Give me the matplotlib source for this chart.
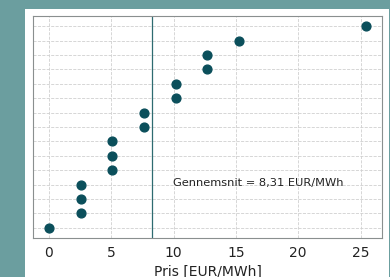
import numpy as np
import matplotlib
matplotlib.use('Agg')
import matplotlib.pyplot as plt
from matplotlib.patches import Rectangle

# prices per observation (EUR/MWh), sorted
pris = [0, 2.54, 2.54, 2.54, 5.08, 5.08, 5.08, 7.62, 7.62,
        10.16, 10.16, 12.7, 12.7, 15.24, 25.45]
rang = list(range(len(pris)))
snit = np.mean(pris)
snit_tekst = 'Gennemsnit = 8,31 EUR/MWh'
xticks = [0, 5, 10, 15, 20, 25]

bg = '#6b9e9f'
dot = '#0b4f5b'

fig = plt.figure(figsize=(3.9, 2.77), dpi=100, facecolor=bg)
fig.patches.append(Rectangle((25/390, 0), 364/390, 268/277, transform=fig.transFigure,
                             facecolor='white', edgecolor='none', zorder=-5))

ax = fig.add_axes([33/390, 1 - 238/277, 349/390, 222/277])
ax.set_zorder(2)
ax.scatter(pris, rang, s=40, color=dot, zorder=3)
ax.axvline(snit, color='#2e6b70', linewidth=0.9, zorder=2)
ax.text(snit + 1.65, 2.75, snit_tekst, fontsize=8.2, color='#222222', va='bottom')

ax.set_xticks(xticks)
ax.set_yticks(rang)
ax.set_yticklabels([])
ax.tick_params(axis='y', length=0)
ax.tick_params(axis='x', length=0, labelsize=10, pad=6, labelcolor='#222222')
ax.grid(True, linestyle='--', color='#d0d0d0', linewidth=0.6)
ax.set_axisbelow(True)
for s in ax.spines.values():
    s.set_color('#8a8f8f')
ax.set_xlabel('Pris [EUR/MWh]', fontsize=10, labelpad=3, color='#222222')

fig.savefig('out.png', dpi=100, facecolor=bg)
